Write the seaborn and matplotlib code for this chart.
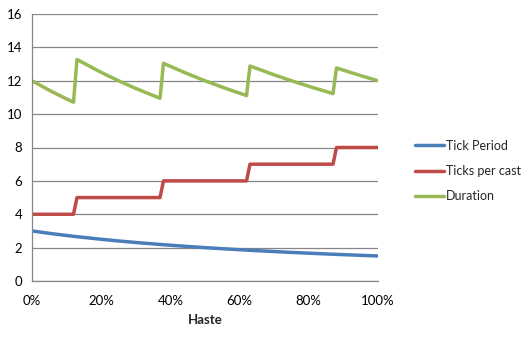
import matplotlib
matplotlib.use("Agg")
import matplotlib.pyplot as plt
import matplotlib.ticker as mticker
import seaborn as sns
import pandas as pd

haste = [0, 5, 10, 12, 13, 20, 25, 30, 37, 38, 45, 50, 55, 62, 63, 70, 75, 80, 87, 88, 95, 100]
tick_period = [3.000, 2.857, 2.727, 2.679, 2.655, 2.500, 2.400, 2.308, 2.190, 2.174, 2.069,
               2.000, 1.935, 1.852, 1.840, 1.765, 1.714, 1.667, 1.604, 1.596, 1.538, 1.500]
ticks_per_cast = [4, 4, 4, 4, 5, 5, 5, 5, 5, 6, 6, 6, 6, 6, 7, 7, 7, 7, 7, 8, 8, 8]
duration = [12.000, 11.429, 10.909, 10.714, 13.274, 12.500, 12.000, 11.538, 10.949, 13.043, 12.414,
            12.000, 11.613, 11.111, 12.883, 12.353, 12.000, 11.667, 11.230, 12.766, 12.308, 12.000]
series_names = ["Tick Period", "Ticks per cast", "Duration"]
colors = ["#4A7EBB", "#BE4B48", "#98B954"]

rows = []
for name, vals in zip(series_names, [tick_period, ticks_per_cast, duration]):
    for h, v in zip(haste, vals):
        rows.append({"Haste": h / 100.0, "value": v, "series": name})
df = pd.DataFrame(rows)

sns.set_style("white")
plt.rcParams["font.family"] = ["Lato", "DejaVu Sans"]

fig = plt.figure(figsize=(5.29, 3.43), dpi=100)
ax = fig.add_axes([32 / 529, 1 - 281 / 343, (378 - 32) / 529, (281 - 14) / 343])

sns.lineplot(data=df, x="Haste", y="value", hue="series", hue_order=series_names,
             palette=colors, linewidth=2.5, ax=ax, legend=True, sort=False)

ax.set_xlim(0, 1)
ax.set_ylim(0, 16)
ax.set_yticks(range(0, 17, 2))
ax.set_xticks([0, 0.2, 0.4, 0.6, 0.8, 1.0])
ax.xaxis.set_major_formatter(mticker.FuncFormatter(lambda v, p: f"{int(round(v * 100))}%"))
ax.yaxis.grid(True, color="#868686", linewidth=0.9)
ax.set_axisbelow(True)
for s in ["top", "right"]:
    ax.spines[s].set_visible(False)
for s in ["left", "bottom"]:
    ax.spines[s].set_color("#868686")
    ax.spines[s].set_linewidth(0.9)
ax.tick_params(axis="both", which="major", direction="out", length=4, width=0.9,
               color="#868686", labelsize=9.5, labelcolor="black", pad=3)
ax.tick_params(axis="x", pad=6)
ax.set_ylabel("")
ax.set_xlabel("Haste", fontsize=9.5, fontweight="bold", labelpad=5)

handles, labels = ax.get_legend_handles_labels()
ax.legend(handles, labels, loc="center left", bbox_to_anchor=(404 / 529, 1 - 171 / 343),
          bbox_transform=fig.transFigure, frameon=False, fontsize=9,
          handlelength=2.3, handletextpad=0.15, labelspacing=1.05)

fig.savefig("out.png", dpi=100)
